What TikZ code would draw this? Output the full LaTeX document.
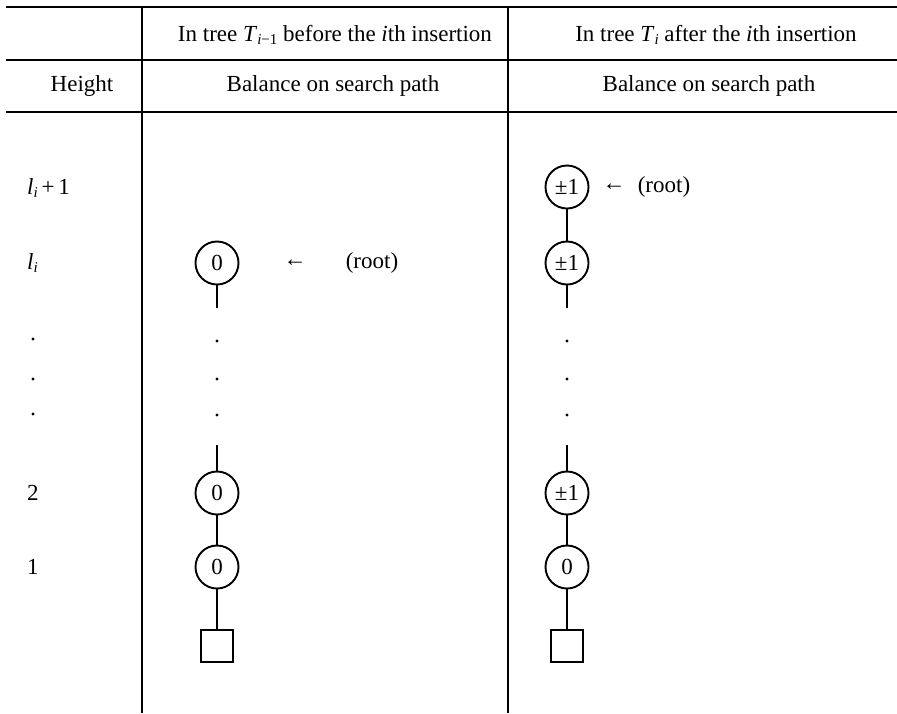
\documentclass[tikz,border=0pt]{standalone}
\usepackage{fontspec}
\setmainfont{Liberation Serif}
\newcommand{\lowsub}[1]{\raisebox{-0.35ex}{\fontsize{15}{15}\selectfont\itshape #1}}
\begin{document}
\begin{tikzpicture}[x=1pt,y=-1pt,
  txt/.style={font=\fontsize{23}{27}\selectfont, inner sep=0pt},
  rule/.style={line width=1.4pt},
  vrule/.style={line width=1.9pt},
  bal/.style={circle, draw, line width=1.9pt, minimum size=43pt, inner sep=0pt, font=\fontsize{23}{27}\selectfont},
  leaf/.style={rectangle, draw, line width=1.9pt, minimum size=32pt, inner sep=0pt},
  edge/.style={line width=1.9pt},
  dotmark/.style={circle, fill, inner sep=0pt, minimum size=3.2pt},
  arr/.style={font=\fontsize{23}{27}\selectfont, inner sep=0pt}]
\useasboundingbox (0,0) rectangle (897,713);
% table rules
\draw[rule] (6,7) -- (897,7);
\draw[rule] (6,60) -- (897,60);
\draw[rule] (6,112) -- (897,112);
\draw[vrule] (142,7) -- (142,713);
\draw[vrule] (508,7) -- (508,713);
% headers
\node[txt] (h1) at (335,35) {In tree \textit{T}\lowsub{i}\raisebox{-0.35ex}{\fontsize{15}{15}\selectfont −1} before the \textit{i}th insertion};
\node[txt] (h2) at (716,35) {In tree \textit{T}\lowsub{i} after the \textit{i}th insertion};
\node[txt] (h3) at (82,86) {Height};
\node[txt] (h4) at (333,86) {Balance on search path};
\node[txt] (h5) at (709,86) {Balance on search path};
% height labels
\node[txt, anchor=west] (hl1) at (27,188) {\textit{l}\lowsub{i}\,+\,1};
\node[txt, anchor=west] (hl2) at (27,263) {\textit{l}\lowsub{i}};
\node[dotmark] (hd1) at (33,339) {};
\node[dotmark] (hd2) at (33,379) {};
\node[dotmark] (hd3) at (33,414) {};
\node[txt, anchor=west] (hl3) at (27,493) {2};
\node[txt, anchor=west] (hl4) at (27,567) {1};
% left tree
\node[bal] (L1) at (217,263) {0};
\node[arr] (La) at (295,263) {←};
\node[txt] (Lr) at (372,263) {(root)};
\coordinate (La1) at (217,308);
\node[dotmark] (Ld1) at (217,341) {};
\node[dotmark] (Ld2) at (217,379) {};
\node[dotmark] (Ld3) at (217,415) {};
\coordinate (La2) at (217,445);
\node[bal] (L2) at (217,493) {0};
\node[bal] (L3) at (217,567) {0};
\node[leaf] (Ls) at (217,646) {};
\draw[edge] (L1) -- (La1);
\draw[edge] (La2) -- (L2);
\draw[edge] (L2) -- (L3);
\draw[edge] (L3) -- (Ls);
% right tree
\node[bal] (R0) at (567,187) {±1};
\node[arr] (Ra) at (614,187) {←};
\node[txt] (Rr) at (664,187) {(root)};
\node[bal] (R1) at (567,263) {±1};
\coordinate (Ra1) at (567,308);
\node[dotmark] (Rd1) at (567,341) {};
\node[dotmark] (Rd2) at (567,379) {};
\node[dotmark] (Rd3) at (567,415) {};
\coordinate (Ra2) at (567,445);
\node[bal] (R2) at (567,493) {±1};
\node[bal] (R3) at (567,567) {0};
\node[leaf] (Rs) at (567,646) {};
\draw[edge] (R0) -- (R1);
\draw[edge] (R1) -- (Ra1);
\draw[edge] (Ra2) -- (R2);
\draw[edge] (R2) -- (R3);
\draw[edge] (R3) -- (Rs);
\end{tikzpicture}
\end{document}
